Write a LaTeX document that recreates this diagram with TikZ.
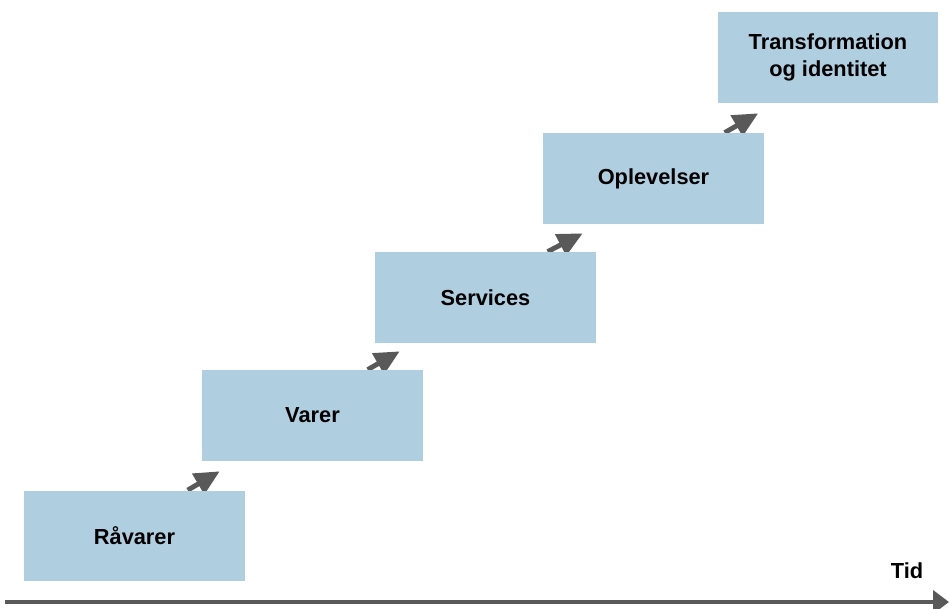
\documentclass[tikz,border=0pt]{standalone}
\usepackage{fontspec}
\setmainfont{Liberation Sans}
\usepackage{tikz}
\usetikzlibrary{backgrounds}
\usetikzlibrary{calc}
\usetikzlibrary{arrows.meta}
\definecolor{boxblue}{RGB}{175,207,224}
\definecolor{arrowgray}{RGB}{89,89,89}

\begin{document}
\begin{tikzpicture}[x=0.02cm, y=-0.02cm,
every node/.style={font=\bfseries\fontsize{12.4}{15.3}\selectfont},
stage/.style={fill=boxblue, minimum width=4.42cm, minimum height=1.82cm, inner sep=0pt, align=center},
stepline/.style={arrowgray, line width=2.8pt, -{Triangle[length=0.5cm,width=0.46cm]}}]

\useasboundingbox (0,0) rectangle (949,608);

% trappen
\node (raa) at (134.5,536) [stage] {Råvarer};
\node (var) at (312.5,415.5) [stage] {Varer};
\node (ser) at (485.5,297.5) [stage] {Services};
\node (opl) at (653.5,178.5) [stage] {Oplevelser};
\node (tra) at (828,57.5) [stage] {Transformation\\og identitet};

% pile mellem trinene
\begin{scope}[on background layer]
\foreach \a/\b/\s/\t/\d in {raa/var/164/18/10, var/ser/166/25/8, ser/opl/173/40/9, opl/tra/182/41/10}
{ \draw [stepline] ($(\a.north west)+(\s,0)$) -- ($(\b.south west)+(\t,\d)$); }
\end{scope}

% tidsaksen
\coordinate (start) at (5,602);
\coordinate (slut) at (949,602);
\draw [arrowgray, line width=2.3pt, -{Triangle[length=0.32cm,width=0.46cm]}] (start) -- (slut);
\node (tid) at (907,571) {Tid};

\end{tikzpicture}
\end{document}
